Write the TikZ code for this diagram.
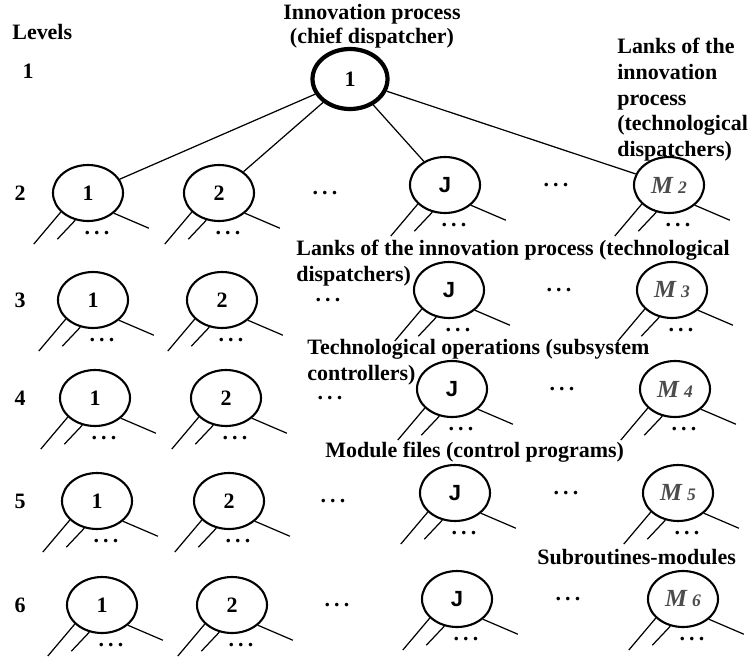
\documentclass[tikz,border=0pt]{standalone}
\usepackage{fontspec}
\setmainfont{Liberation Serif}
\newfontfamily\jfont{Liberation Sans}
\usetikzlibrary{positioning,shapes.geometric}

\newcommand{\gapdots}{\textbf{.\hspace{2.4pt}.\hspace{2.4pt}.}}
\newcommand{\mlabel}[1]{\textcolor{black!70}{{\fontsize{14}{14}\selectfont\textbf{\textit{M}}}\hspace{2.5pt}{\fontsize{10}{10}\selectfont\textit{#1}}}}

\begin{document}
\begin{tikzpicture}[
  x=0.02cm, y=-0.02cm, font=\fontsize{12.5}{14.6}\selectfont\bfseries,
  unit/.style={draw, ellipse, line width=1.2pt, minimum width=1.4cm,
               minimum height=1.12cm, inner sep=0pt},
  chief/.style={unit, line width=2.4pt, minimum width=1.5cm, minimum height=1.2cm},
  leg/.style={line width=0.7pt},
  tie/.style={line width=0.7pt},
  note/.style={align=left, anchor=north west, inner sep=0pt},
]
\useasboundingbox (0,0) rectangle (750,656);

% top of the tree
\node[inner sep=0pt] (lvtitle) at (12,32) [anchor=west] {Levels};
\node (lv1) at (28,71) {1};
\node[chief] (top) at (350,79) {1};
\node[align=center, inner sep=0pt, font=\fontsize{12.5}{13.4}\selectfont\bfseries]
  (title) at (372,26) {Innovation process\\(chief dispatcher)};

% levels 2..6
\foreach \r/\ya/\yb/\xa/\xb/\xj/\xm/\xp/\xq in {
    2/193/185/88/219/445/669/325/556,
    3/300/290/93/222/449/672/328/559,
    4/398/389/95/226/452/675/330/562,
    5/501/493/97/229/455/678/333/566,
    6/605/599/102/232/457/683/337/568} {
  \node (lv\r) at (20,\ya) {\r};
  \node[unit] (n\r-a) at (\xa,\ya) {1};
  \node[unit] (n\r-b) at (\xb,\ya) {2};
  \node[unit] (n\r-j) at (\xj,\yb) {\jfont J};
  \node[unit] (n\r-m) at (\xm,\yb) {\mlabel{\r}};
  \node (gp\r) at (\xp,\ya) {\gapdots};
  \node (gq\r) at (\xq,\yb) {\gapdots};
  \foreach \n in {a,b,j,m} {
    \draw[leg] (n\r-\n.215) -- ++(-27,32);
    \draw[leg] (n\r-\n.245) -- ++(-18,19);
    \draw[leg] (n\r-\n.322) -- ++(35,15);
    \node (d\r\n) at ([shift={(9,40)}]n\r-\n.center) {\gapdots};
  }
}

\draw[tie] (top) -- (n2-a);
\draw[tie] (top) -- (n2-b);
\draw[tie] (top) -- (n2-j);
\draw[tie] (top) -- (n2-m);

% captions
\node[note] (lanks) at (617,38) {Lanks of the\\innovation\\process\\(technological\\dispatchers)};
\node[note] (lanksb) at (296,240) {Lanks of the innovation process (technological\\dispatchers)};
\node[note] (techop) at (307,339) {Technological operations (subsystem\\controllers)};
\node[note] (modf) at (325,442) {Module files (control programs)};
\node[note] (subr) at (537,549) {Subroutines-modules};
\end{tikzpicture}
\end{document}
